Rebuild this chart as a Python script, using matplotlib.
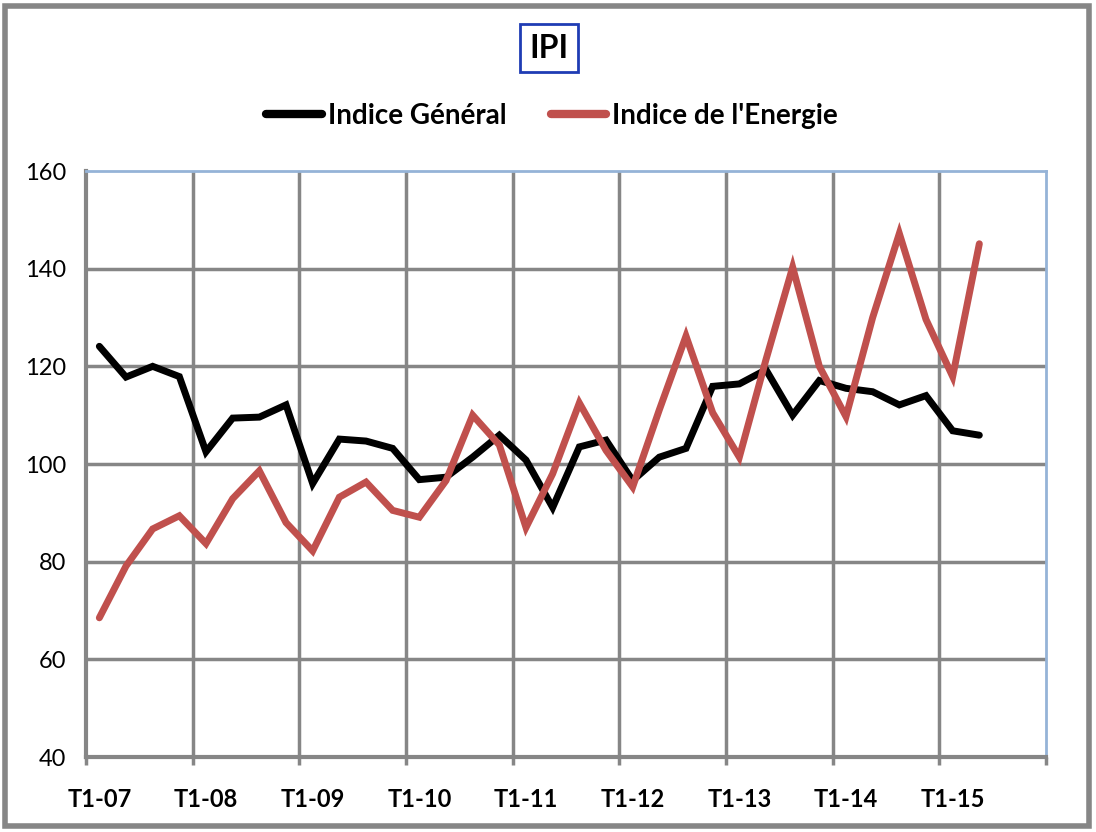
import numpy as np
import matplotlib.pyplot as plt
from matplotlib.patches import Rectangle
from matplotlib.lines import Line2D

plt.rcParams['font.family'] = ['Lato', 'DejaVu Sans']

# données trimestrielles T1-07 .. T2-15
indice_general = [124.1, 117.8, 120.0, 117.9, 102.5, 109.4, 109.6, 112.1,
                  96.0, 105.1, 104.7, 103.2, 96.8, 97.3, 101.4, 105.9,
                  100.8, 91.1, 103.5, 104.9, 96.6, 101.4, 103.2, 115.9,
                  116.4, 119.3, 110.0, 117.1, 115.5, 114.8, 112.1, 114.0,
                  106.8, 105.9]
indice_energie = [68.5, 79.1, 86.7, 89.4, 83.7, 92.9, 98.6, 88.0,
                  82.2, 93.2, 96.3, 90.5, 89.1, 96.6, 110.0, 103.9,
                  87.0, 98.0, 112.5, 102.8, 95.3, 111.1, 126.2, 110.5,
                  101.4, 121.4, 140.3, 120.0, 109.7, 130.0, 147.2, 129.6,
                  117.9, 145.1]
n_cat = 36  # T1-07 .. T4-15
tick_labels = ['T1-07', 'T1-08', 'T1-09', 'T1-10', 'T1-11', 'T1-12',
               'T1-13', 'T1-14', 'T1-15']

grid_col = '#868686'

fig = plt.figure(figsize=(10.96, 8.32), dpi=100)
ax = fig.add_axes([86/1096, 1-757/832, (1046-86)/1096, (757-171)/832])

x = np.arange(len(indice_general)) + 0.5
ax.plot(x, indice_general, color='black', lw=5, solid_capstyle='round',
        solid_joinstyle='miter', label='Indice Général', zorder=3)
ax.plot(x, indice_energie, color='#c0504d', lw=5, solid_capstyle='round',
        solid_joinstyle='miter', label="Indice de l'Energie", zorder=3)

ax.set_xlim(0, n_cat)
ax.set_ylim(40, 160)
ax.set_yticks(np.arange(40, 161, 20))
for v in np.arange(60, 160, 20):
    ax.axhline(v, color=grid_col, lw=2.5, zorder=1)
for k in range(4, n_cat, 4):
    ax.axvline(k, color=grid_col, lw=2.5, zorder=1)

# ticks majeurs aux limites des années, étiquettes au T1
ax.set_xticks(range(0, n_cat + 1, 4))
ax.set_xticklabels([])
ax.set_xticks(np.arange(len(tick_labels)) * 4 + 0.5, minor=True)
ax.set_xticklabels(tick_labels, minor=True, fontsize=17, fontweight='bold')
ax.tick_params(axis='x', which='major', length=6, width=2.5, color=grid_col)
ax.tick_params(axis='x', which='minor', length=0, pad=22)
ax.tick_params(axis='y', length=0, labelsize=17, pad=14)

for s in ['left', 'bottom']:
    ax.spines[s].set_color(grid_col)
    ax.spines[s].set_linewidth(3)
for s in ['top', 'right']:
    ax.spines[s].set_color('#95b3d7')
    ax.spines[s].set_linewidth(2)

# titre encadré
fig.text(549/1096, 1-48/832, 'IPI', fontsize=23, fontweight='bold',
         ha='center', va='center',
         bbox=dict(boxstyle='square,pad=0.3', fc='white', ec='#1f3cb4', lw=2))

handles = [Line2D([], [], color='black', lw=6, solid_capstyle='round'),
           Line2D([], [], color='#c0504d', lw=6, solid_capstyle='round')]
fig.legend(handles, ['Indice Général', "Indice de l'Energie"],
           loc='center', bbox_to_anchor=(552/1096, 1-116/832), ncol=2,
           frameon=False, prop={'size': 20, 'weight': 'bold'},
           handlelength=2.0, handletextpad=0.2, columnspacing=1.6)

# cadre extérieur
fig.patches.append(Rectangle((5/1096, 6/832), 1084/1096, 820/832,
                             transform=fig.transFigure, fill=False,
                             ec=grid_col, lw=4))

fig.savefig('out.png', dpi=100)
